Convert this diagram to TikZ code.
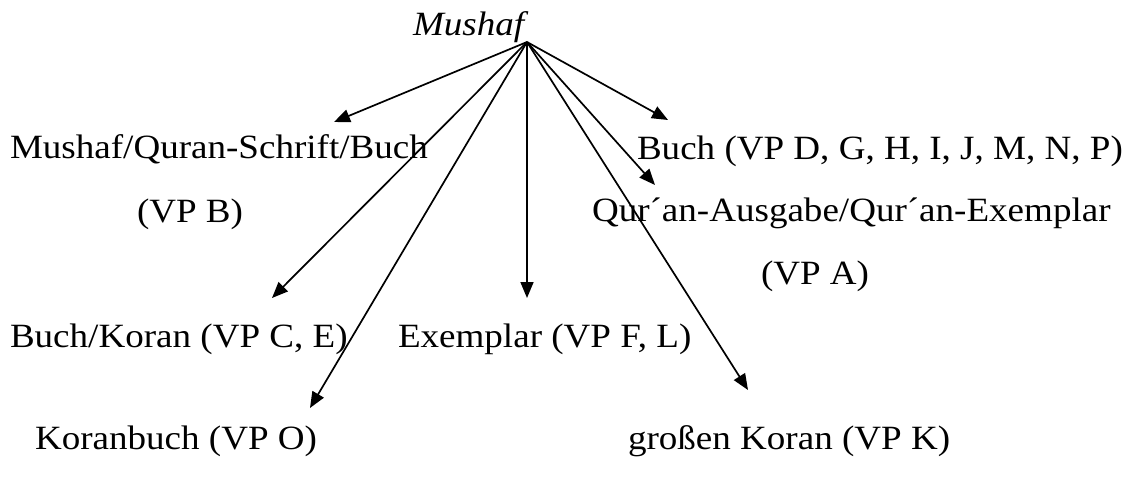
\documentclass[tikz,border=0pt]{standalone}
\usepackage{fontspec}
\setmainfont[FakeStretch=1.09]{Liberation Serif}
\usetikzlibrary{arrows.meta}
\begin{document}
\begin{tikzpicture}[x=1pt,y=-1pt,
  lbl/.style={inner sep=0pt,outer sep=0pt,anchor=base west,font=\fontsize{34}{40}\selectfont},
  arr/.style={line width=1.7pt,-{Triangle[length=16pt,width=13pt]}}]
\useasboundingbox (0,0) rectangle (1132,477);
\fill[white] (0,0) rectangle (1132,477);
\node[lbl,font=\fontsize{34}{40}\selectfont\itshape] (mushaf) at (413,35) {Mushaf};
\node[lbl] (mq) at (10,158) {Mushaf/Quran-Schrift/Buch};
\node[lbl] (vpb) at (137,222) {(VP B)};
\node[lbl] (buch) at (637,159) {Buch (VP D, G, H, I, J, M, N, P)};
\node[lbl] (qur) at (592,221) {Qur´an-Ausgabe/Qur´an-Exemplar};
\node[lbl] (vpa) at (761,284) {(VP A)};
\node[lbl] (bk) at (10,347) {Buch/Koran (VP C, E)};
\node[lbl] (ex) at (398,347) {Exemplar (VP F, L)};
\node[lbl] (kb) at (35,449) {Koranbuch (VP O)};
\node[lbl] (gk) at (628,449) {großen Koran (VP K)};
\coordinate (src) at (527,42);
\coordinate (t1) at (334,122);
\coordinate (t2) at (272,298);
\coordinate (t3) at (310,408);
\coordinate (t4) at (527,298);
\coordinate (t5) at (748,390);
\coordinate (t6) at (655,185);
\coordinate (t7) at (668,120);
\foreach \t in {t1,t2,t3,t4,t5,t6,t7} \draw[arr] (src) -- (\t);
\end{tikzpicture}
\end{document}
